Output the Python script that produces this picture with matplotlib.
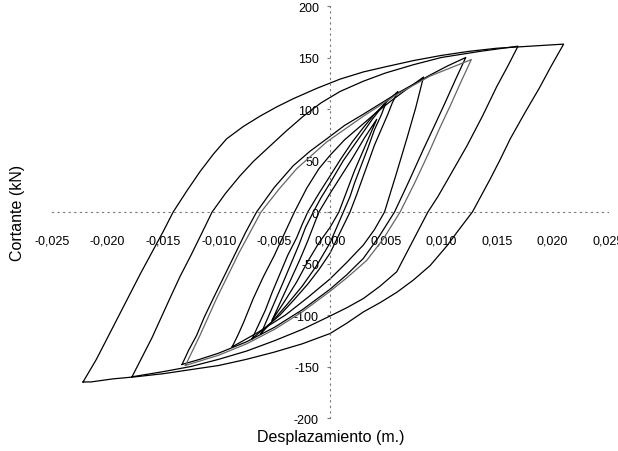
#!/usr/bin/env python3
# -*- coding: utf-8 -*-

"""
Ciclos de histeresis cortante - desplazamiento.
"""

### Import Space ###

import matplotlib.pyplot as plt
from matplotlib.ticker import FuncFormatter

### Global Var/stat ###

plt.rcParams['font.family'] = ['Liberation Sans', 'DejaVu Sans']

# each cycle: displacement (m) and shear (kN)
cycle_1_x = [-0.0052, -0.0044, -0.0035, -0.0027, -0.0020, -0.0010, 0.0000, 0.0010, 0.0020, 0.0031, 0.0042,
             0.0036, 0.0030, 0.0022, 0.0015, 0.0008, 0.0000, -0.0010, -0.0020, -0.0030, -0.0041, -0.0052]
cycle_1_v = [-105, -86, -65, -46, -28, 0, 18, 35, 52, 72, 90,
             75, 60, 40, 20, 0, -15, -30, -48, -68, -87, -105]

cycle_2_x = [-0.0062, -0.0056, -0.0050, -0.0042, -0.0035, -0.0028, -0.0022, -0.0015, -0.0008, 0.0000,
             0.0012, 0.0025, 0.0038, 0.0051,
             0.0046, 0.0040, 0.0034, 0.0028, 0.0022, 0.0018, 0.0012, 0.0006, 0.0000, -0.0012, -0.0025,
             -0.0038, -0.0050, -0.0062]
cycle_2_v = [-118, -103, -88, -68, -50, -32, -15, 0, 14, 28,
             50, 70, 90, 108,
             94, 80, 62, 45, 28, 15, 0, -15, -30, -52, -72,
             -89, -104, -118]

cycle_3_x = [-0.0070, -0.0064, -0.0058, -0.0052, -0.0045, -0.0038, -0.0030, -0.0025, -0.0020, -0.0010,
             0.0000, 0.0010, 0.0020, 0.0030, 0.0040, 0.0050, 0.0061,
             0.0056, 0.0052, 0.0046, 0.0040, 0.0035, 0.0030, 0.0024, 0.0018, 0.0009, 0.0000, -0.0010,
             -0.0020, -0.0033, -0.0045, -0.0058, -0.0070]
cycle_3_v = [-123, -109, -95, -78, -60, -42, -25, -12, 0, 18,
             35, 52, 68, 82, 95, 106, 117,
             106, 95, 80, 65, 50, 35, 17, 0, -20, -40, -56,
             -70, -86, -100, -112, -123]

cycle_4_x = [-0.0088, -0.0083, -0.0078, -0.0069, -0.0060, -0.0050, -0.0041, -0.0032, -0.0021, -0.0010,
             0.0000, 0.0013, 0.0027, 0.0041, 0.0055, 0.0070, 0.0084,
             0.0077, 0.0069, 0.0059, 0.0049, 0.0040, 0.0030, 0.0015, 0.0000, -0.0020, -0.0040,
             -0.0065, -0.0088]
cycle_4_v = [-131, -120, -108, -84, -63, -42, -21, 0, 23, 42,
             55, 70, 83, 96, 108, 120, 131,
             101, 71, 35, 0, -17, -32, -49, -65, -83, -100,
             -117, -131]

cycle_5_x = [-0.0133, -0.0127, -0.0120, -0.0113, -0.0105, -0.0095, -0.0085, -0.0076, -0.0066, -0.0050,
             -0.0033, -0.0018, -0.0003, 0.0013, 0.0030, 0.0045, 0.0060, 0.0075, 0.0090, 0.0106, 0.0122,
             0.0113, 0.0103, 0.0094, 0.0084, 0.0071, 0.0058, 0.0044, 0.0030, 0.0015, 0.0000, -0.0025,
             -0.0050, -0.0075, -0.0100, -0.0117, -0.0133]
cycle_5_v = [-148, -134, -120, -102, -84, -62, -40, -20, 0, 24,
             45, 59, 71, 84, 95, 105, 115, 124, 133, 142, 150,
             129, 105, 84, 61, 30, 0, -24, -45, -61, -75, -95,
             -112, -126, -137, -143, -148]

# second pass at the same amplitude (lighter line on the scan)
cycle_5b_x = [-0.0130, -0.0117, -0.0102, -0.0082, -0.0062, -0.0046, -0.0030, -0.0003, 0.0030, 0.0060,
              0.0090, 0.0127,
              0.0118, 0.0108, 0.0098, 0.0089, 0.0076, 0.0063, 0.0048, 0.0033, 0.0015, 0.0000, -0.0025,
              -0.0050, -0.0075, -0.0100, -0.0130]
cycle_5b_v = [-149, -120, -84, -40, 0, 22, 42, 68, 93, 114,
              132, 148,
              127, 103, 80, 58, 28, 0, -26, -47, -64, -77, -97,
              -114, -128, -139, -149]

cycle_6_x = [-0.0178, -0.0169, -0.0160, -0.0152, -0.0144, -0.0135, -0.0125, -0.0115, -0.0106, -0.0094,
             -0.0081, -0.0069, -0.0057, -0.0040, -0.0024, -0.0008, 0.0009, 0.0030, 0.0050, 0.0075,
             0.0100, 0.0135, 0.0169,
             0.0160, 0.0150, 0.0137, 0.0123, 0.0114, 0.0105, 0.0097, 0.0088, 0.0074, 0.0060, 0.0045,
             0.0030, 0.0015, 0.0000, -0.0025, -0.0050, -0.0075, -0.0100, -0.0125, -0.0150, -0.0178]
cycle_6_v = [-160, -141, -122, -103, -84, -63, -42, -20, 0, 18,
             35, 49, 61, 78, 93, 106, 117, 127, 135, 143,
             150, 156, 161,
             142, 122, 93, 64, 47, 30, 15, 0, -29, -58, -72,
             -84, -93, -101, -114, -125, -135, -143, -150, -155, -160]

cycle_7_x = [-0.0222, -0.0210, -0.0200, -0.0190, -0.0180, -0.0170, -0.0160, -0.0150, -0.0141, -0.0129,
             -0.0117, -0.0105, -0.0093, -0.0078, -0.0063, -0.0048, -0.0033, -0.0012, 0.0009, 0.0030,
             0.0050, 0.0075, 0.0100, 0.0125, 0.0150, 0.0180, 0.0210,
             0.0199, 0.0188, 0.0175, 0.0162, 0.0153, 0.0144, 0.0136, 0.0128, 0.0116, 0.0105, 0.0090,
             0.0075, 0.0060, 0.0045, 0.0030, 0.0015, 0.0000, -0.0025, -0.0050, -0.0075, -0.0100,
             -0.0125, -0.0150, -0.0175, -0.0195, -0.0215, -0.0222]
cycle_7_v = [-165, -143, -122, -101, -80, -59, -39, -19, 0, 20,
             39, 56, 71, 83, 93, 102, 110, 120, 129, 136,
             141, 147, 152, 156, 159, 161, 163,
             142, 120, 96, 71, 51, 32, 16, 0, -17, -33, -52,
             -66, -78, -88, -97, -108, -118, -128, -136, -143, -149,
             -153, -157, -160, -162, -165, -165]

cycles_x = [cycle_1_x, cycle_2_x, cycle_3_x, cycle_4_x, cycle_5_x, cycle_5b_x, cycle_6_x, cycle_7_x]
cycles_v = [cycle_1_v, cycle_2_v, cycle_3_v, cycle_4_v, cycle_5_v, cycle_5b_v, cycle_6_v, cycle_7_v]
cycle_colors = ["black", "black", "black", "black", "black", "#666666", "black", "black"]

x_ticks = [-0.025, -0.020, -0.015, -0.010, -0.005, 0.0, 0.005, 0.010, 0.015, 0.020, 0.025]
y_ticks = [-200, -150, -100, -50, 0, 50, 100, 150, 200]

### Function/Class Space ###

def coma_decimal(value, pos):
    """Etiqueta con coma decimal, como en la hoja de calculo"""
    text = "{:.3f}".format(value).replace(".", ",")
    if text.startswith("-0,000"):
        text = "0,000"
    return text


def entero(value, pos):
    return "{:d}".format(int(round(value)))

### Running Script Space ###

if __name__ == '__main__':
    fig = plt.figure(figsize=(6.18, 4.52), dpi=100)
    ax = fig.add_axes([0.084, 0.073, 0.9, 0.9115])

    for xs, vs, col in zip(cycles_x, cycles_v, cycle_colors):
        ax.plot(xs, vs, color=col, linewidth=0.9)

    ax.set_xlim(-0.025, 0.025)
    ax.set_ylim(-200, 200)

    for side in ["top", "right"]:
        ax.spines[side].set_visible(False)
    ax.spines["left"].set_position(("data", 0))
    ax.spines["bottom"].set_position(("data", 0))
    for side in ["left", "bottom"]:
        ax.spines[side].set_linestyle((0, (1, 4)))
        ax.spines[side].set_color("#777777")
        ax.spines[side].set_linewidth(0.8)

    ax.set_xticks(x_ticks)
    ax.set_yticks(y_ticks)
    ax.xaxis.set_major_formatter(FuncFormatter(coma_decimal))
    ax.yaxis.set_major_formatter(FuncFormatter(entero))
    ax.tick_params(axis="x", length=0, pad=16, labelsize=9)
    ax.tick_params(axis="y", length=2, color="#777777", pad=6, labelsize=9)

    fig.text(0.029, 0.53, "Cortante (kN)", rotation=90, fontsize=11.5,
             ha="center", va="center")
    fig.text(0.535, 0.033, "Desplazamiento (m.)", fontsize=11.5,
             ha="center", va="center")

    fig.savefig("out.png", dpi=100)
